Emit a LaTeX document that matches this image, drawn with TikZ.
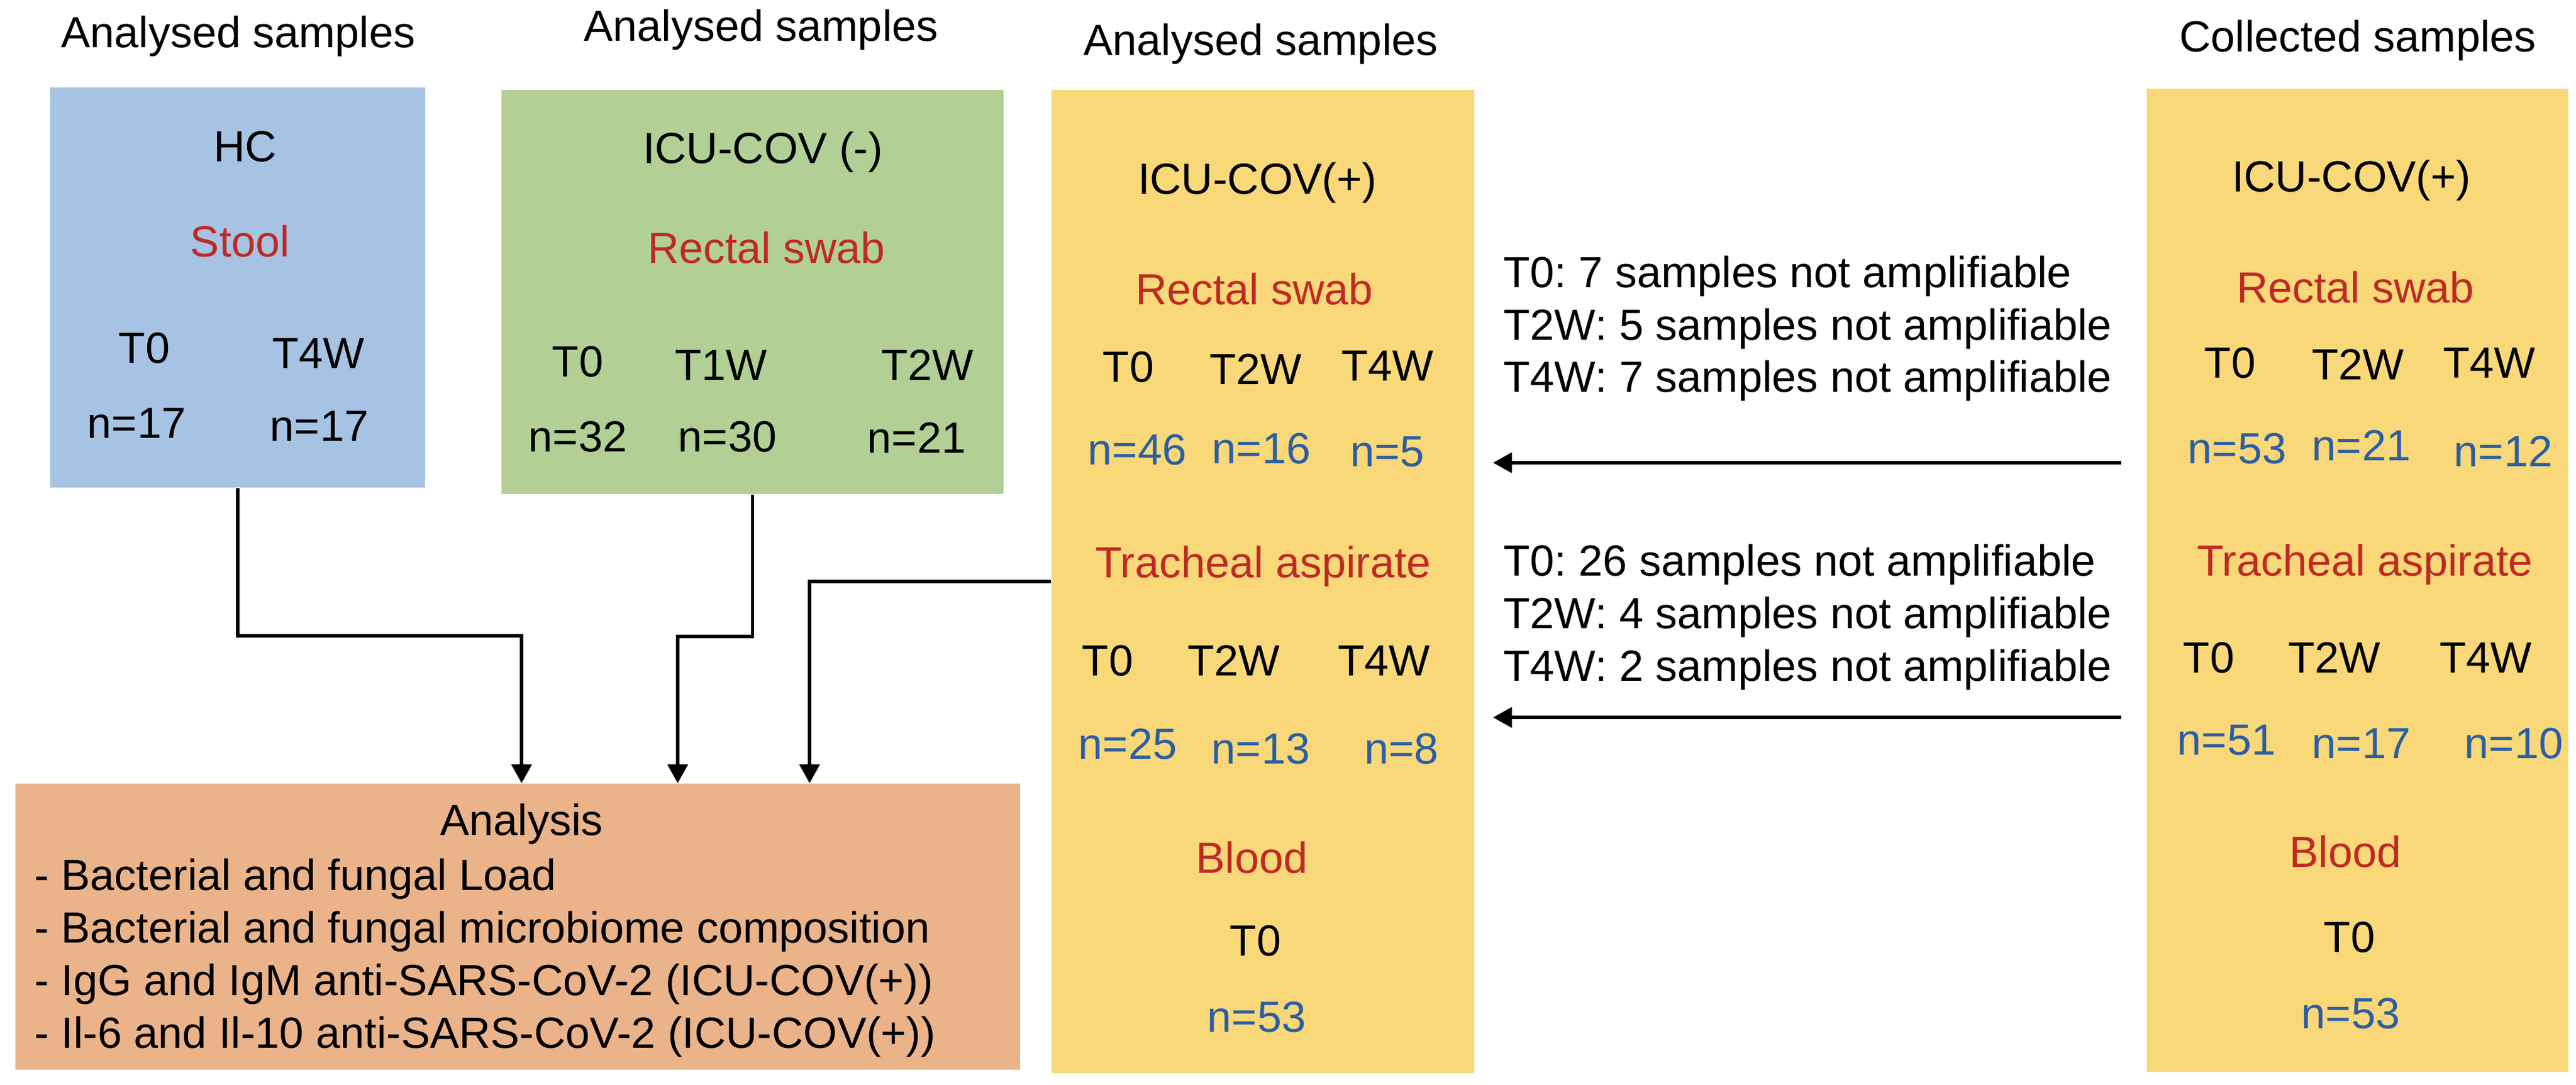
\documentclass[tikz,border=0pt]{standalone}
\usepackage{fontspec}
\setmainfont{Liberation Sans}
\usetikzlibrary{arrows.meta}
\frenchspacing
\definecolor{hcblue}{HTML}{A7C3E3}
\definecolor{neggreen}{HTML}{B2D095}
\definecolor{posyellow}{HTML}{F8D879}
\definecolor{anorange}{HTML}{EAB38A}
\definecolor{txtred}{HTML}{BF2A24}
\definecolor{txtblue}{HTML}{2C5EA3}
\tikzset{
  box/.style={rectangle,inner sep=0pt},
  lbl/.style={inner sep=0pt,anchor=base},
  site/.style={lbl,text=txtred},
  cnt/.style={lbl,text=txtblue},
  link/.style={line width=1.5pt,-{Triangle[length=0.32cm,width=0.34cm]}}
}
\begin{document}
\begin{tikzpicture}[font=\fontsize{21}{25}\selectfont]
\useasboundingbox (0,0) rectangle (43.56,-18.35);

% boxes
\node[box,fill=hcblue,minimum width=6.34cm,minimum height=6.77cm] (hc) at (4.02,-4.865) {};
\node[box,fill=neggreen,minimum width=8.49cm,minimum height=6.84cm] (neg) at (12.725,-4.94) {};
\node[box,fill=posyellow,minimum width=7.15cm,minimum height=16.64cm] (pos) at (21.355,-9.84) {};
\node[box,fill=posyellow,minimum width=7.13cm,minimum height=16.64cm] (col) at (39.865,-9.82) {};
\node[box,fill=anorange,minimum width=16.99cm,minimum height=4.84cm] (an) at (8.755,-15.68) {};

% headers
\node[lbl] (h1) at (4.03,-0.80) {Analysed samples};
\node[lbl] (h2) at (12.87,-0.69) {Analysed samples};
\node[lbl] (h3) at (21.32,-0.93) {Analysed samples};
\node[lbl] (h4) at (39.87,-0.87) {Collected samples};

% HC
\node[lbl] (hc0) at (4.15,-2.73) {HC};
\node[site] (hcs) at (4.06,-4.34) {Stool};
\node[lbl] (hct1) at (2.44,-6.14) {T0};
\node[lbl] (hct2) at (5.38,-6.23) {T4W};
\node[lbl] (hcn1) at (2.31,-7.41) {n=17};
\node[lbl] (hcn2) at (5.40,-7.46) {n=17};

% ICU-COV (-)
\node[lbl] (neg0) at (12.90,-2.76) {ICU-COV (-)};
\node[site] (negs) at (12.96,-4.45) {Rectal swab};
\node[lbl] (negt1) at (9.77,-6.37) {T0};
\node[lbl] (negt2) at (12.19,-6.43) {T1W};
\node[lbl] (negt3) at (15.68,-6.43) {T2W};
\node[lbl] (negn1) at (9.77,-7.64) {n=32};
\node[lbl] (negn2) at (12.30,-7.64) {n=30};
\node[lbl] (negn3) at (15.50,-7.66) {n=21};

% ICU-COV(+) analysed
\node[lbl] (pos0) at (21.26,-3.28) {ICU-COV(+)};
\node[site] (poss1) at (21.21,-5.15) {Rectal swab};
\node[lbl] (post1) at (19.08,-6.46) {T0};
\node[lbl] (post2) at (21.23,-6.50) {T2W};
\node[lbl] (post3) at (23.46,-6.44) {T4W};
\node[cnt] (posn1) at (19.23,-7.86) {n=46};
\node[cnt] (posn2) at (21.33,-7.84) {n=16};
\node[cnt] (posn3) at (23.46,-7.89) {n=5};
\node[site] (poss2) at (21.36,-9.77) {Tracheal aspirate};
\node[lbl] (post4) at (18.73,-11.43) {T0};
\node[lbl] (post5) at (20.86,-11.43) {T2W};
\node[lbl] (post6) at (23.40,-11.43) {T4W};
\node[cnt] (posn4) at (19.07,-12.84) {n=25};
\node[cnt] (posn5) at (21.32,-12.92) {n=13};
\node[cnt] (posn6) at (23.70,-12.92) {n=8};
\node[site] (poss3) at (21.17,-14.77) {Blood};
\node[lbl] (post7) at (21.23,-16.17) {T0};
\node[cnt] (posn7) at (21.25,-17.46) {n=53};

% ICU-COV(+) collected
\node[lbl] (col0) at (39.76,-3.24) {ICU-COV(+)};
\node[site] (cols1) at (39.83,-5.12) {Rectal swab};
\node[lbl] (colt1) at (37.71,-6.39) {T0};
\node[lbl] (colt2) at (39.87,-6.42) {T2W};
\node[lbl] (colt3) at (42.09,-6.39) {T4W};
\node[cnt] (coln1) at (37.83,-7.84) {n=53};
\node[cnt] (coln2) at (39.93,-7.79) {n=21};
\node[cnt] (coln3) at (42.33,-7.89) {n=12};
\node[site] (cols2) at (39.99,-9.74) {Tracheal aspirate};
\node[lbl] (colt4) at (37.35,-11.38) {T0};
\node[lbl] (colt5) at (39.47,-11.38) {T2W};
\node[lbl] (colt6) at (42.03,-11.38) {T4W};
\node[cnt] (coln4) at (37.65,-12.77) {n=51};
\node[cnt] (coln5) at (39.93,-12.83) {n=17};
\node[cnt] (coln6) at (42.51,-12.83) {n=10};
\node[site] (cols3) at (39.66,-14.67) {Blood};
\node[lbl] (colt7) at (39.73,-16.11) {T0};
\node[cnt] (coln7) at (39.75,-17.40) {n=53};

% not amplifiable
\node[lbl,anchor=base west] (na1) at (25.42,-4.86) {T0: 7 samples not amplifiable};
\node[lbl,anchor=base west] (na2) at (25.42,-5.75) {T2W: 5 samples not amplifiable};
\node[lbl,anchor=base west] (na3) at (25.42,-6.63) {T4W: 7 samples not amplifiable};
\node[lbl,anchor=base west] (na4) at (25.42,-9.74) {T0: 26 samples not amplifiable};
\node[lbl,anchor=base west] (na5) at (25.42,-10.63) {T2W: 4 samples not amplifiable};
\node[lbl,anchor=base west] (na6) at (25.42,-11.52) {T4W: 2 samples not amplifiable};

% analysis
\node[lbl] (an0) at (8.82,-14.13) {Analysis};
\node[lbl,anchor=base west] (an1) at (0.58,-15.06) {- Bacterial and fungal Load};
\node[lbl,anchor=base west] (an2) at (0.58,-15.95) {- Bacterial and fungal microbiome composition};
\node[lbl,anchor=base west] (an3) at (0.58,-16.84) {- IgG and IgM anti-SARS-CoV-2 (ICU-COV(+))};
\node[lbl,anchor=base west] (an4) at (0.58,-17.73) {- Il-6 and Il-10 anti-SARS-CoV-2 (ICU-COV(+))};

% connectors
\coordinate (j1) at (8.82,-10.76);
\coordinate (j2) at (11.46,-10.77);
\coordinate (j3) at (13.69,-9.84);
\draw[link] (hc.south) |- (j1) -- (j1 |- an.north);
\draw[link] (neg.south) |- (j2) -- (j2 |- an.north);
\draw[link] (pos.west) -- (j3) -- (j3 |- an.north);

\coordinate (r1) at (35.87,-7.83);
\coordinate (r2) at (35.87,-12.14);
\draw[link,shorten >=0.31cm] (r1) -- (r1 -| pos.east);
\draw[link,shorten >=0.31cm] (r2) -- (r2 -| pos.east);
\end{tikzpicture}
\end{document}
